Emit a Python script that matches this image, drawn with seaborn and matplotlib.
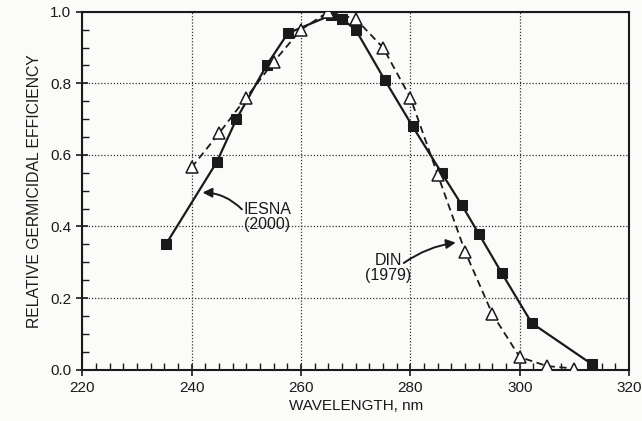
import numpy as np
import pandas as pd
import matplotlib
matplotlib.use("Agg")
import matplotlib.pyplot as plt
import seaborn as sns
from matplotlib.ticker import MultipleLocator

# IESNA (2000) - filled squares, solid line
iesna_nm = [235.3, 244.6, 248.2, 253.7, 257.6, 265.4, 267.5, 270.0, 275.3,
            280.4, 285.7, 289.4, 292.5, 296.7, 302.2, 313.2]
iesna_eff = [0.35, 0.58, 0.70, 0.85, 0.94, 0.99, 0.98, 0.95, 0.81,
             0.68, 0.55, 0.46, 0.38, 0.27, 0.13, 0.015]

# DIN (1979) - open triangles, dashed line
din_nm = [240, 245, 250, 255, 260, 265, 270, 275, 280, 285, 290, 295, 300, 305, 310]
din_eff = [0.565, 0.66, 0.76, 0.86, 0.95, 1.00, 0.98, 0.90, 0.76,
           0.545, 0.33, 0.155, 0.035, 0.01, 0.003]

INK = "#1a1a1a"


def main():
    sns.set_style("ticks")
    plt.rcParams["font.family"] = ["Liberation Sans", "DejaVu Sans"]

    fig = plt.figure(figsize=(6.42, 4.21), dpi=100)
    fig.patch.set_facecolor("#fbfbf9")
    ax = fig.add_axes([0.128, 0.122, 0.852, 0.85])
    ax.set_facecolor("#fbfbf9")

    df_i = pd.DataFrame({"nm": iesna_nm, "eff": iesna_eff})
    df_d = pd.DataFrame({"nm": din_nm, "eff": din_eff})

    sns.lineplot(data=df_i, x="nm", y="eff", ax=ax, color=INK, lw=1.6,
                 marker="s", markersize=7.5, markerfacecolor=INK,
                 markeredgecolor=INK, sort=False, zorder=3)
    sns.lineplot(data=df_d, x="nm", y="eff", ax=ax, color=INK, lw=1.3,
                 linestyle=(0, (4, 2.5)), marker="^", markersize=9,
                 markerfacecolor="white", markeredgecolor=INK,
                 markeredgewidth=1.1, sort=False, zorder=4)

    ax.set_xlim(220, 320)
    ax.set_ylim(0, 1.0)
    ax.xaxis.set_major_locator(MultipleLocator(20))
    ax.xaxis.set_minor_locator(MultipleLocator(2.5))
    ax.yaxis.set_major_locator(MultipleLocator(0.2))
    ax.yaxis.set_minor_locator(MultipleLocator(0.05))
    ax.set_xticklabels([f"{int(v)}" for v in ax.get_xticks()])
    ax.set_yticklabels([f"{v:.1f}" for v in ax.get_yticks()])

    ax.tick_params(which="major", direction="inout", length=8, width=1.2,
                   labelsize=11, colors=INK, pad=4)
    ax.tick_params(which="minor", direction="in", length=5, width=1.0,
                   colors=INK)
    ax.grid(True, which="major", linestyle=(0, (1, 1.5)), color="#333333", lw=0.9)

    for s in ax.spines.values():
        s.set_linewidth(1.5)
        s.set_color(INK)

    ax.set_xlabel("WAVELENGTH, nm", fontsize=11, color=INK, labelpad=3)
    ax.set_ylabel("RELATIVE GERMICIDAL EFFICIENCY", fontsize=11.3,
                  color=INK, labelpad=6)

    # curve labels
    ax.text(253.8, 0.426, "IESNA\n(2000)", fontsize=11.5, ha="center",
            va="center", multialignment="center", color=INK, linespacing=1.0)
    ax.text(275.9, 0.285, "DIN\n(1979)", fontsize=11.5, ha="center",
            va="center", multialignment="center", color=INK, linespacing=1.0)

    arrow = dict(arrowstyle="-|>", color=INK, lw=1.4, mutation_scale=14,
                 shrinkA=0, shrinkB=0)
    ax.annotate("", xy=(242.0, 0.495), xytext=(249.2, 0.448),
                arrowprops=dict(arrow, connectionstyle="arc3,rad=0.2"))
    ax.annotate("", xy=(288.3, 0.355), xytext=(278.8, 0.298),
                arrowprops=dict(arrow, connectionstyle="arc3,rad=-0.12"))

    plt.savefig("out.png", dpi=100, facecolor=fig.get_facecolor())
    plt.close()


if __name__ == "__main__":
    main()
